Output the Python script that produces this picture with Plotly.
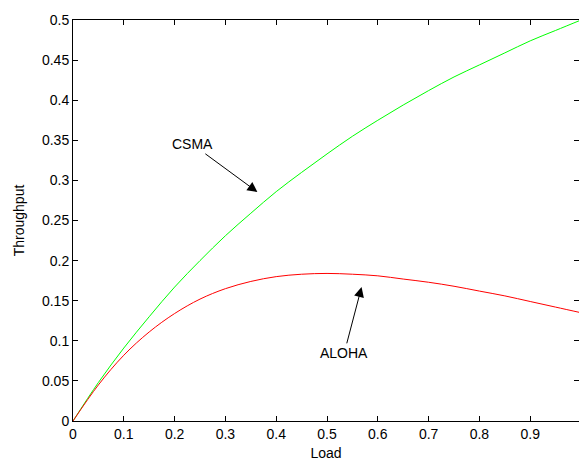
import plotly.graph_objects as go

load = [0, 0.05, 0.1, 0.15, 0.2, 0.25, 0.3, 0.35, 0.4, 0.45, 0.5,
        0.55, 0.6, 0.65, 0.7, 0.75, 0.8, 0.85, 0.9, 0.95, 1.0]
csma = [0, 0.048, 0.091, 0.130, 0.167, 0.200, 0.231, 0.259, 0.286, 0.310, 0.333,
        0.355, 0.375, 0.394, 0.412, 0.429, 0.444, 0.459, 0.474, 0.487, 0.500]
aloha = [0, 0.045, 0.082, 0.111, 0.134, 0.152, 0.165, 0.174, 0.180, 0.183, 0.184,
         0.183, 0.181, 0.177, 0.173, 0.168, 0.162, 0.156, 0.149, 0.142, 0.135]
x_ticks = [0, 0.1, 0.2, 0.3, 0.4, 0.5, 0.6, 0.7, 0.8, 0.9]
y_ticks = [0, 0.05, 0.1, 0.15, 0.2, 0.25, 0.3, 0.35, 0.4, 0.45, 0.5]

font = dict(family="Liberation Sans, Arial, sans-serif", size=14, color="black")

fig = go.Figure()
fig.add_trace(go.Scatter(x=load, y=csma, mode="lines", line=dict(color="#00ff00", width=1, shape="spline", smoothing=1.0),
                         name="CSMA", showlegend=False))
fig.add_trace(go.Scatter(x=load, y=aloha, mode="lines", line=dict(color="#ff0000", width=1, shape="spline", smoothing=1.0),
                         name="ALOHA", showlegend=False))

fig.add_annotation(x=0.363, y=0.2855, ax=0.235, ay=0.345, axref="x", ayref="y",
                   text="CSMA", showarrow=True, arrowhead=2, arrowsize=2, arrowwidth=1,
                   arrowcolor="black", font=font)
fig.add_annotation(x=0.568, y=0.167, ax=0.534, ay=0.085, axref="x", ayref="y",
                   text="ALOHA", showarrow=True, arrowhead=2, arrowsize=2, arrowwidth=1,
                   arrowcolor="black", font=font)

axis_common = dict(showgrid=False, zeroline=False, showline=True, linecolor="black", linewidth=1,
                   mirror="ticks", ticks="inside", ticklen=5, tickcolor="black", tickwidth=1,
                   tickfont=font)
fig.update_xaxes(range=[0, 0.996], tickvals=x_ticks, ticktext=[f"{v:g}" for v in x_ticks],
                 title=dict(text="Load", font=font, standoff=7), **axis_common)
fig.update_yaxes(range=[0, 0.5], tickvals=y_ticks, ticktext=[f"{v:g}" for v in y_ticks],
                 title=dict(text="Throughput", font=font, standoff=14), **axis_common)

fig.update_layout(width=579, height=464, margin=dict(l=73, r=0, t=20, b=43),
                  plot_bgcolor="white", paper_bgcolor="white", font=font)
fig.write_html("out.html")
